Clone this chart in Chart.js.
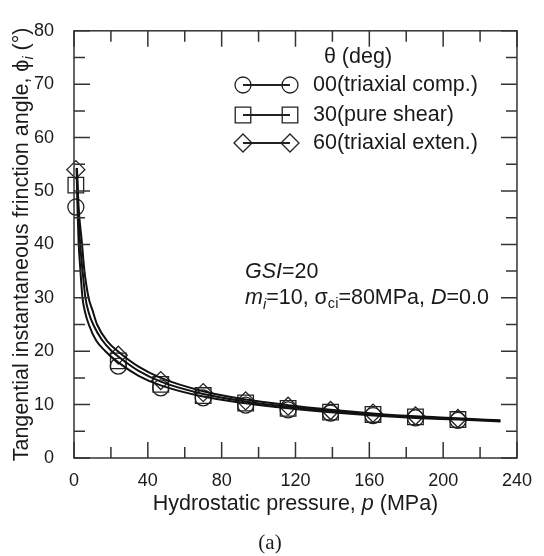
<!DOCTYPE html>
<html>
<head>
<meta charset="utf-8">
<script src="https://cdn.jsdelivr.net/npm/chart.js@4/dist/chart.umd.min.js"></script>
<style>
  html, body { margin: 0; padding: 0; background: #fff; }
  #wrap { width: 544px; height: 556px; }
</style>
</head>
<body>
<div id="wrap"><canvas id="chart" width="544" height="556"></canvas></div>
<script>
// marker points (p in MPa, phi in deg)
const pressure = [1, 24, 47, 70, 93, 116, 139, 162, 185, 208];
const markerPhi00 = [47.0, 17.2, 13.15, 11.25, 9.9, 9.0, 8.4, 7.95, 7.5, 7.05];
const markerPhi30 = [51.1, 18.2, 13.8, 11.7, 10.3, 9.3, 8.6, 8.15, 7.7, 7.2];
const markerPhi60 = [54.0, 19.25, 14.5, 12.25, 10.7, 9.7, 8.9, 8.4, 7.9, 7.4];

// curves
const curveP00 = [1.4, 2.0, 2.5, 3.4, 4.6, 6, 8, 12, 17, 24, 35, 47, 70, 93, 116, 139, 162, 185, 208, 231];
const curvePhi00 = [54.2, 45.5, 40.3, 35.5, 30, 27.3, 25, 22.0, 20, 17.9, 15.4, 13.6, 11.5, 10.25, 9.3, 8.55, 7.95, 7.5, 7.2, 6.85];
const curveP30 = [1.5, 2.2, 3.3, 4.5, 6.2, 8, 10.4, 15, 20.5, 24, 35, 47, 70, 93, 116, 139, 162, 185, 208, 231];
const curvePhi30 = [54.3, 47, 40.3, 35.5, 30, 27.2, 25, 22.2, 20, 19.0, 16.3, 14.3, 12.0, 10.6, 9.6, 8.8, 8.15, 7.65, 7.3, 6.95];
const curveP60 = [1.6, 2.5, 4.3, 5.5, 7.9, 10, 12.5, 18, 24.1, 35, 47, 70, 93, 116, 139, 162, 185, 208, 231];
const curvePhi60 = [54.3, 47, 40.3, 35.5, 30, 27.7, 25, 21.9, 19.9, 17.1, 15.0, 12.5, 10.95, 9.9, 9.05, 8.35, 7.8, 7.45, 7.05];

const seriesNames = ["00(triaxial comp.)", "30(pure shear)", "60(triaxial exten.)"];
const pointStyles = ["circle", "rect", "rectRot"];
const pointSizes = [8, 11, 9];

const SANS = 'Arial, "Liberation Sans", sans-serif';
const INK = "#1a1a1a";
const BIG = 21.5;

const pts = (xs, ys) => xs.map((x, i) => ({ x: x, y: ys[i] }));

function curve(xs, ys) {
  return {
    type: "line",
    data: pts(xs, ys),
    borderColor: "#111",
    borderWidth: 2,
    pointRadius: 0,
    cubicInterpolationMode: "monotone",
    fill: false
  };
}
function markers(ys, i) {
  return {
    type: "scatter",
    data: pts(pressure, ys),
    showLine: false,
    pointStyle: pointStyles[i],
    pointRadius: pointSizes[i],
    pointHoverRadius: pointSizes[i],
    borderColor: "#222",
    borderWidth: 1.3,
    backgroundColor: "rgba(0,0,0,0)",
    clip: false
  };
}

// draw a run of text pieces (italic / subscript)
function richText(ctx, parts, x, y, align, size) {
  const fontOf = p => (p.italic ? "italic " : "") + (p.sub ? size * 0.68 : size) + "px " + (p.family || SANS);
  let total = 0;
  parts.forEach(p => { ctx.font = fontOf(p); p.w = ctx.measureText(p.t).width; total += p.w; });
  let cx = align === "center" ? x - total / 2 : x;
  ctx.textAlign = "left";
  ctx.textBaseline = "middle";
  parts.forEach(p => {
    ctx.font = fontOf(p);
    ctx.fillText(p.t, cx, p.sub ? y + size * 0.3 : y);
    cx += p.w;
  });
}

function marker(ctx, style, x, y, r) {
  ctx.beginPath();
  if (style === "circle") {
    ctx.arc(x, y, r, 0, Math.PI * 2);
  } else if (style === "rect") {
    const s = r * Math.SQRT1_2;
    ctx.rect(x - s, y - s, 2 * s, 2 * s);
  } else {
    ctx.moveTo(x - r, y); ctx.lineTo(x, y - r); ctx.lineTo(x + r, y); ctx.lineTo(x, y + r);
    ctx.closePath();
  }
  ctx.stroke();
}

const framePlugin = {
  id: "frame",
  afterDraw(chart) {
    const ctx = chart.ctx;
    const a = chart.chartArea;
    const xs = chart.scales.x, ys = chart.scales.y;
    ctx.save();
    ctx.strokeStyle = "#333";
    ctx.lineWidth = 1.5;
    ctx.strokeRect(a.left, a.top, a.right - a.left, a.bottom - a.top);
    // inward ticks on all four sides
    ctx.beginPath();
    xs.ticks.forEach(t => {
      const px = xs.getPixelForValue(t.value);
      const len = t.value % 40 === 0 ? 16 : 11;
      ctx.moveTo(px, a.bottom); ctx.lineTo(px, a.bottom - len);
      ctx.moveTo(px, a.top); ctx.lineTo(px, a.top + len);
    });
    ys.ticks.forEach(t => {
      const py = ys.getPixelForValue(t.value);
      const len = t.value % 10 === 0 ? 16 : 11;
      ctx.moveTo(a.left, py); ctx.lineTo(a.left + len, py);
      ctx.moveTo(a.right, py); ctx.lineTo(a.right - len, py);
    });
    ctx.stroke();

    ctx.fillStyle = INK;
    // axis titles
    richText(ctx, [{ t: "Hydrostatic pressure, " }, { t: "p", italic: true }, { t: " (MPa)" }],
      (a.left + a.right) / 2, 504, "center", BIG);
    ctx.save();
    ctx.translate(22, (a.top + a.bottom) / 2);
    ctx.rotate(-Math.PI / 2);
    richText(ctx, [{ t: "Tangential instantaneous frinction angle, ϕ" }, { t: "i", italic: true, sub: true }, { t: " (°)" }],
      0, 0, "center", BIG);
    ctx.restore();
    richText(ctx, [{ t: "(a)", family: '"Liberation Serif", "Times New Roman", serif' }], 270, 543, "center", 21);

    // annotation
    richText(ctx, [{ t: "GSI", italic: true }, { t: "=20" }], 245, 272, "left", BIG);
    richText(ctx, [{ t: "m", italic: true }, { t: "i", italic: true, sub: true }, { t: "=10, σ" },
      { t: "ci", sub: true }, { t: "=80MPa, " }, { t: "D", italic: true }, { t: "=0.0" }], 245, 298, "left", BIG);

    // legend
    richText(ctx, [{ t: "θ (deg)" }], 358, 57, "center", BIG);
    const rows = [85, 115, 143];
    ctx.strokeStyle = "#222";
    seriesNames.forEach((name, i) => {
      const y = rows[i];
      ctx.lineWidth = 2;
      ctx.beginPath(); ctx.moveTo(243, y); ctx.lineTo(290, y); ctx.stroke();
      ctx.lineWidth = 1.3;
      marker(ctx, pointStyles[i], 243, y, pointSizes[i]);
      marker(ctx, pointStyles[i], 290, y, pointSizes[i]);
      ctx.fillStyle = INK;
      richText(ctx, [{ t: name }], 313, y, "left", BIG);
    });
    ctx.restore();
  }
};

new Chart(document.getElementById("chart"), {
  data: {
    datasets: [
      curve(curveP00, curvePhi00),
      curve(curveP30, curvePhi30),
      curve(curveP60, curvePhi60),
      markers(markerPhi00, 0),
      markers(markerPhi30, 1),
      markers(markerPhi60, 2)
    ]
  },
  options: {
    responsive: false,
    devicePixelRatio: 1,
    animation: false,
    layout: { padding: { left: 0, top: 12, right: 22, bottom: 0 } },
    plugins: { legend: { display: false }, tooltip: { enabled: false } },
    scales: {
      x: {
        type: "linear",
        min: 0, max: 240,
        grid: { display: false, drawTicks: false },
        border: { display: false },
        ticks: {
          stepSize: 20, autoSkip: false, maxRotation: 0, padding: 12,
          color: INK, font: { family: SANS, size: 18 },
          callback: v => (v % 40 === 0 ? v : "")
        },
        afterFit: s => { s.height = 98; }
      },
      y: {
        type: "linear",
        min: 0, max: 80,
        grid: { display: false, drawTicks: false },
        border: { display: false },
        ticks: {
          stepSize: 5, autoSkip: false, padding: 20,
          color: INK, font: { family: SANS, size: 18 },
          callback: v => (v % 10 === 0 ? v : "")
        },
        afterFit: s => { s.width = 74; }
      }
    }
  },
  plugins: [framePlugin]
});
</script>
</body>
</html>
